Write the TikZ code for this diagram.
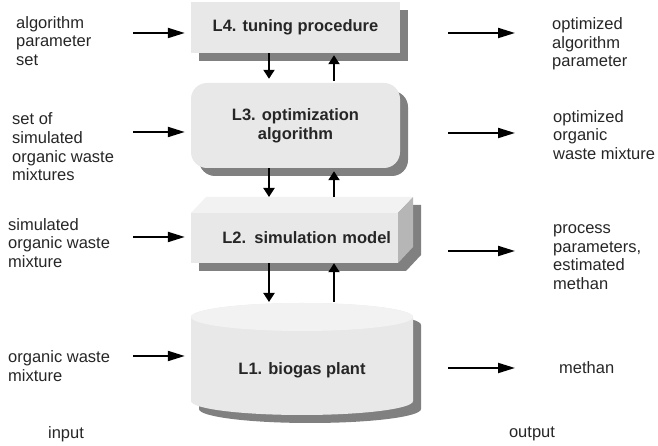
\documentclass[tikz,border=0pt]{standalone}
\usepackage{fontspec}
\setmainfont{Liberation Sans}
\usepackage{tikz}
\usetikzlibrary{positioning, shapes, arrows.meta, shadows}

\definecolor{facegray}{RGB}{232,232,232}
\definecolor{topgray}{RGB}{242,242,242}
\definecolor{sidegray}{RGB}{182,182,182}
\definecolor{shadegray}{RGB}{128,128,128}

\begin{document}
\fontsize{16.5pt}{18.7pt}\selectfont
\begin{tikzpicture}[x=1pt, y=1pt,
    level/.style={rectangle, fill=facegray, minimum width=209pt, align=center, font=\bfseries, text=black!85,
        drop shadow={shadow xshift=8pt, shadow yshift=-8pt, fill=shadegray, opacity=1}},
    txt/.style={align=left, anchor=west, inner sep=0pt, text=black!85},
    harrow/.style={-{Triangle[length=17pt, width=10pt]}, line width=2pt},
    varrow/.style={-{Triangle[length=9pt, width=11pt]}, line width=2pt}
]
\useasboundingbox (0,0) rectangle (658,446);

% levels
\node[level, minimum height=51pt] (l4) at (295.5,418.5) {L4. tuning procedure};
\node[level, minimum height=85pt, rounded corners=16pt] (l3) at (295.5,320.5) {L3. optimization\\algorithm};

% L2 box
\fill[shadegray] (199,175) -- (199,225) -- (214,241) -- (421,241) -- (421,191) -- (406,175) -- cycle;
\node[rectangle, fill=facegray, minimum width=207pt, minimum height=50pt, text width=193pt, inner xsep=7pt,
    align=right, font=\bfseries, text=black!85] (l2) at (294.5,208) {L2. simulation model};
\fill[topgray] (191,233) -- (206,249) -- (413,249) -- (398,233) -- cycle;
\fill[sidegray] (398,183) -- (398,233) -- (413,249) -- (413,199) -- cycle;
\coordinate (l2n) at (0,249);

% L1 cylinder
\fill[shadegray] (199,121) -- (199,37) arc[start angle=180, end angle=360, x radius=111, y radius=14]
    -- (421,121) arc[start angle=0, end angle=180, x radius=111, y radius=14] -- cycle;
\fill[facegray] (191,129) -- (191,45) arc[start angle=180, end angle=360, x radius=111, y radius=14]
    -- (413,129) arc[start angle=0, end angle=180, x radius=111, y radius=14] -- cycle;
\fill[topgray] (302,129) ellipse[x radius=111, y radius=14];
\node[minimum width=222pt, font=\bfseries, text=black!85] (l1) at (302,76) {L1. biogas plant};
\coordinate (l1n) at (0,143);

% input / output texts
\node[txt] (in4) at (16,405) {algorithm\\parameter\\set};
\node[txt] (in3) at (12,299) {set of\\simulated\\organic waste\\mixtures};
\node[txt] (in2) at (8,203) {simulated\\organic waste\\mixture};
\node[txt] (in1) at (8,80) {organic waste\\mixture};
\node[txt] (out4) at (552,402) {optimized\\algorithm\\parameter};
\node[txt] (out3) at (553,311) {optimized\\organic\\waste mixture};
\node[txt] (out2) at (553,189) {process\\parameters,\\estimated\\methan};
\node[txt] (out1) at (559,78) {methan};
\node[text=black!85] (input) at (66,12) {input};
\node[text=black!85] (output) at (532,12) {output};

% vertical arrows
\coordinate (dn) at (269,0);
\coordinate (up) at (334,0);
\draw[varrow, shorten >=4pt] (l4.south -| dn) -- (l3.north -| dn);
\draw[varrow, shorten <=2pt, shorten >=2pt] (l3.north -| up) -- (l4.south -| up);
\draw[varrow] (l3.south -| dn) -- (l2n -| dn);
\draw[varrow, shorten >=3pt] (l2n -| up) -- (l3.south -| up);
\draw[varrow, shorten >=1pt] (l2.south -| dn) -- (l1n -| dn);
\draw[varrow, shorten <=1pt] (l1n -| up) -- (l2.south -| up);

% input arrows
\coordinate (i4) at (133,413);
\coordinate (i3) at (133,314);
\coordinate (i2) at (133,209);
\coordinate (i1) at (133,90);
\draw[harrow, shorten >=6pt] (i4) -- (i4 -| l4.west);
\draw[harrow, shorten >=6pt] (i3) -- (i3 -| l3.west);
\draw[harrow, shorten >=6pt] (i2) -- (i2 -| l2.west);
\draw[harrow, shorten >=6pt] (i1) -- (i1 -| l1.west);

% output arrows
\coordinate (o4) at (448,413);
\coordinate (o3) at (448,313);
\coordinate (o2) at (448,195);
\coordinate (o1) at (448,78);
\draw[harrow, shorten >=37pt] (o4) -- (o4 -| out4.west);
\draw[harrow, shorten >=38pt] (o3) -- (o3 -| out3.west);
\draw[harrow, shorten >=38pt] (o2) -- (o2 -| out2.west);
\draw[harrow, shorten >=44pt] (o1) -- (o1 -| out1.west);
\end{tikzpicture}
\end{document}
